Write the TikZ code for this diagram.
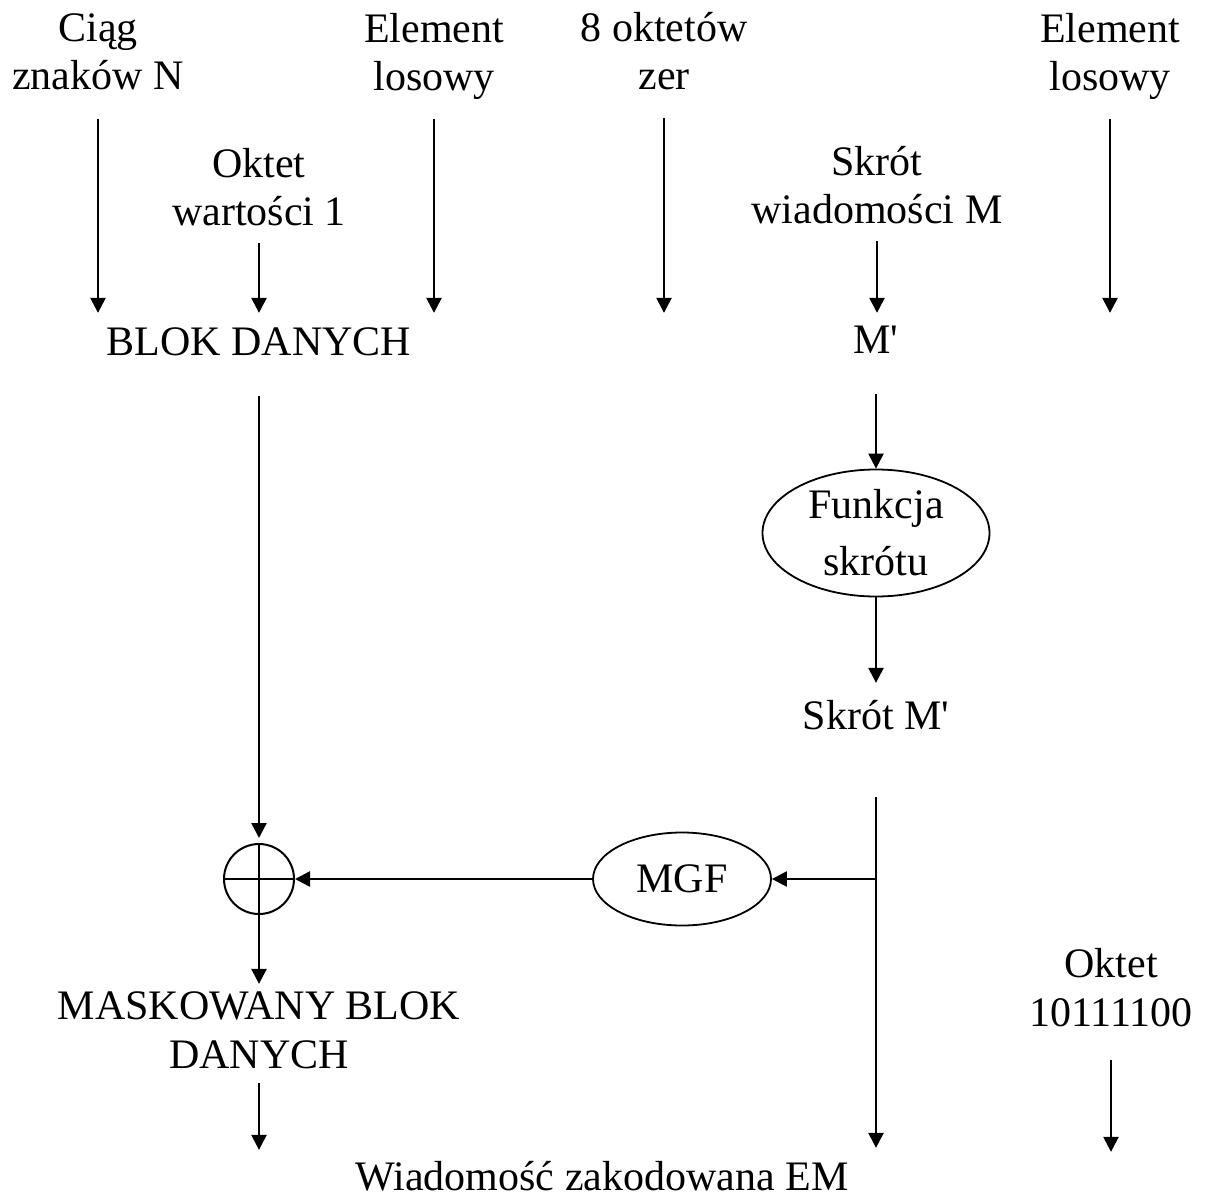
\documentclass[tikz,border=0pt]{standalone}
\usepackage{fontspec}
\setmainfont{Liberation Serif}
\usetikzlibrary{arrows.meta,shapes.geometric}

\begin{document}
\begin{tikzpicture}[x=1pt, y=-1pt]
  \tikzset{
    lbl/.style={
      align=center, inner sep=0pt,
      font=\fontsize{42}{48.5}\selectfont,
      execute at begin node=\strut, execute at end node=\strut
    },
    oval/.style={
      draw, ellipse, line width=1.8pt, inner sep=0pt, align=center,
      font=\fontsize{42}{48.5}\selectfont
    },
    xsum/.style={
      draw, circle, line width=2pt, minimum size=70pt, inner sep=0pt,
      path picture={
        \draw [line width=2pt] (path picture bounding box.north) -- (path picture bounding box.south)
          (path picture bounding box.west) -- (path picture bounding box.east);
      }
    },
    arr/.style={
      line width=2.4pt, -{Triangle[length=15pt, width=15pt]}
    }
  }

  \useasboundingbox (0,0) rectangle (1215,1199);

  \node [lbl] (ciag) at (98, 59) {Ciąg\\znaków N};
  \node [lbl] (elem1) at (434, 59) {Element\\losowy};
  \node [lbl] (zera) at (664, 58) {8 oktetów\\zer};
  \node [lbl] (elem2) at (1110, 59) {Element\\losowy};
  \node [lbl] (oktet1) at (259, 194) {Oktet\\wartości 1};
  \node [lbl] (skrot) at (877, 192) {Skrót\\wiadomości M};
  \node [lbl, anchor=base] (blok) at (259, 355) {BLOK DANYCH};
  \node [lbl, anchor=base] (mprim) at (876, 353) {M\textquotesingle};

  \node [oval, minimum width=227pt, minimum height=127pt] (hash) at (876, 533) {Funkcja\\[8.5pt]skrótu};
  \node [lbl, anchor=base] (skrotm) at (876, 729) {Skrót M\textquotesingle};
  \node [oval, minimum width=178pt, minimum height=93pt] (mgf) at (682, 879) {MGF};
  \node [xsum] (xor) at (259, 879) {};

  \node [lbl] (mask) at (259, 1037.5) {MASKOWANY BLOK\\DANYCH};
  \node [lbl] (oktet2) at (1111, 994.5) {Oktet\\10111100};
  \node [lbl, anchor=base] (em) at (602, 1190) {Wiadomość zakodowana EM};

  % inputs going into the data block and into M'
  \foreach \n in {ciag, elem1, zera, elem2}
    \draw [arr, shorten <=14pt, shorten >=8pt] (\n.south) -- (\n.south |- blok.north);
  \foreach \n in {oktet1, skrot}
    \draw [arr, shorten <=3pt, shorten >=8pt] (\n.south) -- (\n.south |- blok.north);

  \draw [arr, shorten <=26pt, shorten >=5pt] (blok.south) -- (xor.north);
  \draw [arr, shorten <=26pt] (mprim.south) -- (hash.north);
  \draw [arr, shorten >=12pt] (hash.south) -- (skrotm.north);

  % the hash runs down to EM and is tapped for the MGF
  \coordinate (split) at (skrotm.south |- mgf.east);
  \draw [arr, shorten <=53pt, shorten >=8pt] (skrotm.south) -- (skrotm.south |- em.north);
  \draw [arr] (split) -- (mgf.east);
  \draw [arr] (mgf.west) -- (xor.east);

  \draw [arr, shorten >=8pt] (xor.south) -- (mask.north);
  \draw [arr, shorten >=6pt] (mask.south) -- (mask.south |- em.north);
  \draw [arr, shorten <=19pt, shorten >=4pt] (oktet2.south) -- (oktet2.south |- em.north);
\end{tikzpicture}
\end{document}
